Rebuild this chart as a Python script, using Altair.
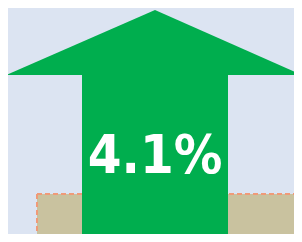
import altair as alt
import pandas as pd

# Data
labels = ["Growth"]
values = [4.1]

# Shape geometry (in reference pixel coordinates)
head_x = [6, 155, 302]
head_y = [75, 10, 75]
head_base = 75

shaft = pd.DataFrame({"x": [82], "x2": [228], "y": [75], "y2": [250]})
ground = pd.DataFrame({"x": [37], "x2": [310], "y": [194], "y2": [250]})
head = pd.DataFrame({"x": head_x, "y": head_y, "y2": [head_base] * 3})
text_df = pd.DataFrame({"label": labels, "value": values})
text_df["txt"] = text_df["value"].map(lambda v: f"{v:.1f}%")
text_df["x"] = 155
text_df["y"] = 173

BG = "#dce4f2"
GREEN = "#00ae4e"
TAN = "#c9c29f"
SALMON = "#f09a78"

xs = alt.Scale(domain=[8, 294], nice=False, zero=False)
ys = alt.Scale(domain=[8, 234], nice=False, zero=False, reverse=True)
X = lambda f: alt.X(f, type="quantitative", scale=xs, axis=None)
Y = lambda f: alt.Y(f, type="quantitative", scale=ys, axis=None)

ground_rect = alt.Chart(ground).mark_rect(color=TAN, clip=True).encode(
    x=X("x"), x2="x2", y=Y("y"), y2="y2"
)
top_edge = alt.Chart(ground).mark_rule(
    color=SALMON, strokeWidth=2, strokeDash=[5, 3], clip=True
).encode(x=X("x"), x2="x2", y=Y("y"))
left_edge = alt.Chart(ground).mark_rule(
    color=SALMON, strokeWidth=2, strokeDash=[5, 3], clip=True
).encode(x=X("x"), y=Y("y"), y2="y2")

head_area = alt.Chart(head).mark_area(color=GREEN, interpolate="linear", clip=True).encode(
    x=X("x"), y=Y("y"), y2="y2"
)
shaft_rect = alt.Chart(shaft).mark_rect(color=GREEN, clip=True).encode(
    x=X("x"), x2="x2", y=Y("y"), y2="y2"
)
label = alt.Chart(text_df).mark_text(
    font="DejaVu Sans Condensed", fontWeight="bold", fontSize=54,
    color="white", baseline="alphabetic", align="center"
).encode(x=X("x"), y=Y("y"), text="txt:N")

chart = alt.layer(ground_rect, top_edge, left_edge, head_area, shaft_rect, label).properties(
    width=286, height=226, background=BG, padding=0,
    autosize=alt.AutoSizeParams(type="none")
).configure_view(stroke=None, fill=BG)

chart.save("out.html", embed_options={"renderer": "svg", "actions": False})
